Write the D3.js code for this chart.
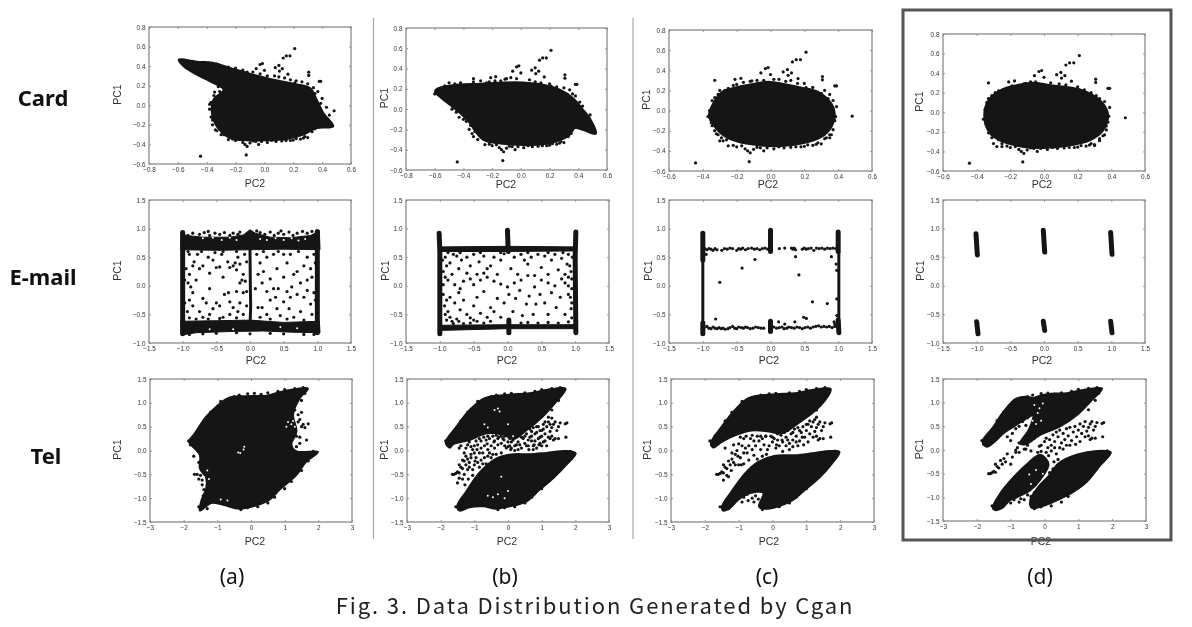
<!doctype html>
<html>
<head>
<meta charset="utf-8">
<script src="https://d3js.org/d3.v7.min.js"></script>
<style>
    html, body { margin: 0; padding: 0; background: #fff; }
    svg { display: block; }
    .plots { filter: blur(0.5px); }
</style>
</head>
<body>
<div id="chart"></div>
<script>
// axis ticks
const cardXWide = [-0.8, -0.6, -0.4, -0.2, 0, 0.2, 0.4, 0.6];
const cardXNarrow = [-0.6, -0.4, -0.2, 0, 0.2, 0.4, 0.6];
const cardY = [-0.6, -0.4, -0.2, 0, 0.2, 0.4, 0.6, 0.8];
const emailX = [-1.5, -1, -0.5, 0, 0.5, 1, 1.5];
const emailY = [-1, -0.5, 0, 0.5, 1, 1.5];
const telX = [-3, -2, -1, 0, 1, 2, 3];
const telY = [-1.5, -1, -0.5, 0, 0.5, 1, 1.5];

const rowNames = ["Card", "E-mail", "Tel"];
const colNames = ["(a)", "(b)", "(c)", "(d)"];

// Card: outlines of the solid clouds
const cardAOutline = [[-.594,.467],[-.468,.446],[-.353,.433],[-.214,.371],[-.076,.313],[.062,.262],[.2,.221],[.316,.177],[.362,.058],[.408,-.078],[.477,-.215],[.362,-.232],[.27,-.3],[.154,-.344],[.016,-.358],[-.122,-.358],[-.237,-.334],[-.33,-.215],[-.364,-.078],[-.353,.058],[-.283,.16],[-.376,.245],[-.468,.313],[-.56,.398]];
const cardBOutline = [[-.598,.174],[-.575,.207],[-.447,.24],[-.285,.25],[-.123,.263],[.016,.263],[.155,.24],[.271,.191],[.364,.108],[.433,-.007],[.48,-.089],[.522,-.243],[.433,-.204],[.376,-.187],[.341,-.253],[.248,-.319],[.109,-.352],[-.03,-.352],[-.169,-.335],[-.262,-.302],[-.308,-.237],[-.355,-.138],[-.424,-.039],[-.494,.043],[-.552,.108]];
const cardCOutline = [[-.364,-.056],[-.339,.07],[-.285,.185],[-.211,.228],[-.112,.262],[-.014,.285],[.085,.262],[.183,.228],[.281,.185],[.36,.07],[.38,-.03],[.36,-.162],[.301,-.262],[.183,-.328],[.045,-.354],[-.073,-.344],[-.191,-.311],[-.28,-.245],[-.329,-.162]];
const cardDOutline = [[-.355,-.031],[-.33,.123],[-.26,.225],[-.162,.276],[-.063,.303],[.036,.276],[.134,.259],[.253,.208],[.351,.089],[.381,-.031],[.351,-.184],[.272,-.286],[.134,-.344],[-.004,-.364],[-.122,-.354],[-.241,-.303],[-.32,-.218]];

// the same outliers show up in all four Card plots
const cardOutliers = [[.21,.58],[.177,.505],[.152,.505],[.13,.483],[-.443,-.52],[-.126,-.507],[.307,.338],[.307,.305],[.38,.245],[.39,.245],[.483,-.056],[-.33,.3],[-.21,.31],[-.175,.32],[-.11,.295],[-.057,.374],[-.03,.417],[-.014,.427],[0,.357],[.075,.384],[.1,.407],[.104,.35],[.124,.374],[.163,.318],[.21,.228]];
const cardBottomFringe = [[.33,-.27],[.28,-.32],[.22,-.34],[.15,-.36],[.08,-.37],[.02,-.38],[-.04,-.4],[-.1,-.385],[-.15,-.38],[-.12,-.42],[-.135,-.4],[-.2,-.36],[-.25,-.35],[.35,-.24],[.3,-.33],[.25,-.345],[.18,-.36],[-.06,-.37],[-.17,-.35],[.12,-.365],[.05,-.36],[-.02,-.37],[-.08,-.365],[-.22,-.345],[.27,-.335],[.2,-.355]];
const cardAFringe = [[-.33,.42],[-.25,.39],[-.15,.36],[-.08,.34],[.02,.3],[.07,.3],[.14,.28],[.22,.25],[.26,.24],[.3,.22],[.34,.18],[.37,.14],[.4,.07],[.43,-.02],[.45,-.1],[-.3,-.3],[-.33,-.26],[-.36,-.2],[-.37,-.12],[-.38,-.04],[-.37,.03],[-.35,.1],[-.345,.135],[-.34,-.25],[-.31,.14],[-.5,.45],[-.42,.44],[-.2,.38],[-.12,.34],[-.03,.32],[.1,.29],[.18,.26],[.35,.12],[.39,.02],[-.36,-.15],[-.28,-.3],[-.38,.01],[-.35,-.05],[-.32,.19]];
const cardBFringe = [[-.6,.15],[-.5,.26],[-.46,.25],[-.38,.24],[-.33,.27],[-.28,.28],[-.24,.26],[-.18,.28],[-.1,.3],[-.07,.31],[-.03,.3],[.06,.29],[.1,.27],[.2,.25],[.25,.22],[.3,.21],[.34,.19],[.38,.13],[.41,.07],[-.48,.0],[-.43,-.08],[-.38,-.12],[-.36,-.2],[-.33,-.27],[-.3,-.3],[-.35,-.16],[-.53,.23],[-.42,.26],[-.22,.27],[-.14,.28],[.14,.26],[.36,.15],[.43,.03],[-.5,.06],[-.45,-.03],[-.4,-.1],[-.32,-.22],[-.34,-.24]];
const cardCFringe = [[-.33,.13],[-.32,.04],[-.36,.0],[-.37,-.06],[-.35,-.12],[-.33,-.2],[-.31,-.24],[-.3,-.3],[-.28,-.3],[-.3,.2],[-.25,.22],[-.2,.26],[-.16,.28],[-.08,.3],[-.04,.3],[.05,.31],[.12,.3],[.2,.27],[.25,.23],[.32,.2],[.35,.16],[.37,.1],[.39,.04],[.38,-.1],[.37,-.19],[.36,-.24],[.32,-.28],[.35,-.27],[-.345,.1],[-.31,.16],[-.27,.2],[-.22,.25],[-.12,.29],[.02,.31],[.09,.29],[.16,.27],[.3,.17],[.34,.12],[.385,-.06],[-.345,-.15],[-.32,-.23],[-.26,-.29],[-.29,-.27]];
const cardDFringe = [[-.36,-.07],[-.34,.1],[-.34,.05],[-.33,.14],[-.32,-.17],[-.33,-.21],[-.3,-.32],[-.28,-.35],[-.27,-.28],[-.29,.2],[-.24,.23],[-.19,.27],[-.12,.29],[-.05,.31],[.04,.3],[.13,.28],[.2,.26],[.28,.2],[.33,.14],[.36,.11],[.39,.05],[.38,-.1],[.37,-.18],[.36,-.23],[.33,-.29],[.3,-.34],[-.35,.03],[-.31,.17],[-.27,.22],[-.08,.31],[.09,.29],[.24,.23],[.31,.17],[.385,-.04],[-.345,-.12],[-.31,-.26],[-.25,-.32],[.37,-.14]];

// E-mail: dense bands
const emailATopBand = [[-1.02,.95],[-.95,.88],[-.7,.85],[-.3,.85],[-.1,.89],[0,.98],[.08,.92],[.3,.85],[.6,.84],[.9,.88],[1.03,.96],[1.04,.63],[.5,.64],[0,.63],[-.5,.62],[-1.03,.63]];
const emailABottomBand = [[-1.03,-.62],[-.5,-.61],[0,-.6],[.5,-.64],[1.03,-.62],[1.04,-.82],[.6,-.81],[.2,-.79],[-.3,-.8],[-.8,-.82],[-1.02,-.86]];
const emailAStems = [[[-1,-.84],[-1,.93]],[[1,-.82],[1,.95]]];
const emailAThin = [[[0,-.72],[.01,-.35],[.005,.0],[0,.63]]];
const emailAPoints = [[-.9,.55],[-.85,.35],[-.83,.42],[-.78,.55],[-.75,.3],[-.7,.35],[-.62,.5],[-.6,.22],[-.55,.45],[-.52,.58],[-.5,.32],[-.45,.33],[-.42,.55],[-.4,.15],[-.33,.42],[-.3,.32],[-.25,.35],[-.22,.4],[-.2,.28],[-.18,.5],[-.15,.38],[-.1,.2],[-.08,.55],[-.12,.1],[-.15,.05],[-.07,.08],[-.05,.42],[-.9,.2],[-.92,.05],[-.88,-.02],[-.8,.1],[-.95,.3],
    [-.9,-.25],[-.85,-.35],[-.75,-.45],[-.7,-.22],[-.65,-.3],[-.6,-.5],[-.55,-.4],[-.5,-.3],[-.45,-.35],[-.4,-.55],[-.38,-.15],[-.32,-.12],[-.3,-.28],[-.25,-.38],[-.2,-.1],[-.18,-.45],[-.15,-.3],[-.1,-.12],[-.1,-.5],[-.05,-.35],[-.05,-.1],[-.3,-.5],[-.6,-.05],[-.85,-.12],[-.93,-.45],[-.7,-.55],
    [.1,.55],[.15,.4],[.2,.25],[.25,.5],[.3,.12],[.35,.55],[.4,.3],[.5,.15],[.55,.4],[.6,.55],[.65,.2],[.7,.25],[.75,.05],[.8,.35],[.85,.5],[.9,.3],[.92,.15],[.95,.55],[.85,.1],[.5,.55],[.18,.05],[.12,.2],
    [.08,-.05],[.12,-.38],[.18,-.38],[.25,-.5],[.3,-.25],[.35,-.05],[.38,-.2],[.4,-.4],[.42,-.05],[.45,-.52],[.5,-.28],[.55,-.1],[.58,-.4],[.62,-.02],[.65,-.55],[.7,-.15],[.75,-.45],[.8,-.2],[.85,-.08],[.9,-.32],[.92,-.5],[.95,-.12],[.6,-.2],[.25,-.1],[.15,-.55],
    [-.9,-.56],[-.8,-.58],[-.62,-.58],[-.45,-.57],[-.2,-.56],[.3,-.58],[.55,-.58],[.8,-.6],[-.92,.6],[-.72,.6],[-.4,.6],[-.2,.6],[.2,.6],[.42,.6],[.72,.6],[-.97,-.3],[-.97,.1],[.97,.4],[.97,-.25]];
const emailAFringe = [[-.85,.92],[-.75,.9],[-.68,.93],[-.6,.88],[-.52,.92],[-.45,.9],[-.38,.93],[-.3,.88],[-.25,.92],[-.18,.9],[.15,.93],[.22,.9],[.3,.94],[.36,.88],[.42,.92],[.5,.9],[.58,.94],[.64,.88],[.7,.92],[.78,.95],[.85,.92],[-.9,-.85],[-.7,-.84],[-.5,-.83],[-.2,-.82],[0,-.84],[.3,-.83],[.5,-.84],[.8,-.85],[.95,-.85],[-.92,.88],[-.62,.95],[-.15,.94],[.1,.96],[.46,.96],[.92,.95]];
// white flecks left in the upper band of (a)
const emailAHoles = [[-.7,.83],[-.55,.84],[-.42,.8],[-.3,.84],[-.2,.8],[.15,.82],[.25,.8],[.38,.83],[.5,.8],[.62,.83],[.72,.79],[.82,.82],[.45,-.72],[.7,-.74],[-.6,-.76],[-.25,-.76]];

const emailBTopBand = [[-1,.68],[0,.69],[1,.68],[1,.61],[0,.6],[-1,.6]];
const emailBBottomBand = [[-1,-.69],[0,-.68],[1,-.68],[1,-.75],[0,-.75],[-1,-.78]];
const emailBStems = [[[-1.01,.92],[-1,.6],[-1,-.84]],[[0,.97],[.01,.6]],[[1.01,.94],[1,.5],[1.01,-.82]],[[.02,-.6],[.02,-.82]]];
const emailBPoints = [[-.92,.5],[-.88,.58],[-.85,.4],[-.8,.55],[-.75,.52],[-.72,.3],[-.68,.45],[-.6,.5],[-.55,.35],[-.5,.55],[-.45,.2],[-.42,.42],[-.35,.52],[-.3,.3],[-.25,.35],[-.2,.5],[-.15,.2],[-.1,.45],[-.05,.56],[.05,.3],[.1,.5],[.15,.2],[.2,.55],[.25,.45],[.3,.38],[.35,.5],[.4,.18],[.45,.55],[.5,.32],[.55,.52],[.6,.2],[.65,.45],[.7,.55],[.75,.28],[.8,.48],[.85,.2],[.9,.55],[.92,.35],[.95,.12],
    [-.95,.25],[-.92,.15],[-.88,.1],[-.82,.2],[-.78,.02],[-.7,-.05],[-.65,.08],[-.6,.22],[-.55,.12],[-.5,.02],[-.4,.1],[-.35,.22],[-.3,.15],[-.2,.08],[-.1,.03],[0,-.02],[.1,.05],[.2,.1],[.3,.18],[.4,-.02],[.5,.1],[.6,.05],[.7,.0],[.8,.12],[.85,.05],[.9,.0],[.95,-.05],
    [-.95,-.15],[-.9,-.25],[-.85,-.2],[-.78,-.3],[-.72,-.12],[-.7,-.42],[-.65,-.25],[-.6,-.5],[-.55,-.56],[-.5,-.35],[-.45,-.2],[-.4,-.48],[-.35,-.1],[-.3,-.55],[-.25,-.38],[-.2,-.45],[-.15,-.22],[-.1,-.55],[-.05,-.3],[.02,-.15],[.08,-.45],[.12,-.22],[.18,-.08],[.22,-.52],[.28,-.32],[.32,-.18],[.38,-.5],[.42,-.32],[.48,-.15],[.55,-.3],[.6,-.5],[.65,-.12],[.72,-.38],[.78,-.2],[.85,-.5],[.9,-.15],[.94,-.4],[.95,-.56],
    [-.9,-.6],[-.82,-.62],[-.72,-.62],[-.65,-.66],[-.55,-.65],[-.45,-.62],[-.35,-.65],[-.25,-.62],[.2,-.65],[.3,-.64],[.45,-.65],[.6,-.64],[.75,-.65],[.9,-.63],[-.62,-.72],[-.8,-.66],[-.96,.45],[-.95,.02],[-.93,-.35],[-.92,-.5],[-.88,-.45],[-.9,.35],[-.85,-.55],[-.75,-.58],[-.5,-.6],[.94,.25],[.95,-.3],[.93,-.2],[.9,.15],[.88,.38],[.96,.5],[-.7,.58],[-.4,.58],[-.1,.58],[.3,.58],[.6,.58],[.82,.58]];

// dotted top and bottom rows of (c)
const emailCTopDots = [[-.97,.65],[-.94,.63],[-.91,.65],[-.88,.64],[-.85,.62],[-.82,.65],[-.79,.63],[-.72,.62],[-.68,.65],[-.64,.64],[-.6,.66],[-.56,.65],[-.5,.62],[-.47,.65],[-.44,.64],[-.41,.66],[-.37,.63],[-.33,.65],[-.28,.66],[-.24,.64],[-.2,.65],[-.16,.63],[-.12,.65],[-.08,.66],[-.04,.64],[.13,.65],[.21,.66],[.31,.66],[.33,.64],[.35,.66],[.37,.63],[.47,.64],[.5,.66],[.53,.64],[.56,.65],[.6,.66],[.64,.62],[.68,.66],[.72,.65],[.76,.66],[.8,.64],[.84,.66],[.88,.65],[.92,.66],[.96,.65]];
const emailCBottomDots = [[-.98,-.73],[-.94,-.71],[-.91,-.74],[-.88,-.75],[-.85,-.72],[-.82,-.74],[-.79,-.75],[-.76,-.73],[-.73,-.75],[-.7,-.74],[-.67,-.76],[-.63,-.75],[-.6,-.73],[-.56,-.71],[-.53,-.74],[-.5,-.75],[-.47,-.72],[-.43,-.73],[-.4,-.74],[-.37,-.72],[-.34,-.73],[-.3,-.75],[-.26,-.74],[-.22,-.72],[-.18,-.73],[-.14,-.74],[-.1,-.74],[.05,-.72],[.09,-.74],[.13,-.73],[.17,-.72],[.2,-.75],[.24,-.74],[.27,-.72],[.31,-.73],[.35,-.74],[.39,-.72],[.43,-.73],[.47,-.75],[.51,-.73],[.55,-.72],[.59,-.74],[.63,-.72],[.67,-.71],[.71,-.7],[.75,-.72],[.79,-.71],[.83,-.72],[.87,-.71],[.91,-.73],[.95,-.71]];
const emailCStems = [[[-1,.92],[-1,.45]],[[0,.97],[0,.6]],[[1,.94],[1,.6]],[[0,-.62],[0,-.8]],[[-1,-.65],[-1,-.84]],[[1,-.6],[1.01,-.82]]];
const emailCThin = [[[-1,.45],[-1,-.7]],[[1.01,.6],[1.01,-.7]]];
const emailCPoints = [[-.81,-.58],[-.75,.06],[-.42,.31],[-.23,.46],[.37,.51],[.42,.19],[.62,-.28],[.84,-.31],[.9,.51],[.97,.38],[.98,.27],[.98,-.23],[.98,-.52],[.49,-.55],[.53,-.57],[.12,-.63],[.21,-.67],[.36,-.63],[.94,-.63],[.95,-.67],[-.95,.55]];

const emailDStems = [[[-1.01,.91],[-.99,.54]],[[-.01,.97],[.01,.59]],[[.99,.93],[1.01,.55]],[[-1,-.63],[-.98,-.84]],[[-.01,-.62],[.01,-.78]],[[.99,-.62],[1.01,-.82]]];

// Tel: solid lobes
const telAOutline = [[-1.84,.19],[-1.67,.36],[-1.33,.71],[-1.03,.92],[-.68,1.1],[-.14,1.14],[.46,1.15],[.95,1.24],[1.69,1.3],[1.45,1.1],[1.25,.75],[1.35,.4],[1.2,.12],[1.35,-.02],[1.99,-.03],[1.64,-.23],[1.35,-.51],[.85,-.82],[.55,-1.03],[.06,-1.17],[-.34,-1.22],[-.83,-1.14],[-1.18,-1.1],[-1.52,-1.26],[-1.48,-1.07],[-1.33,-.79],[-1.33,-.58],[-1.52,-.37],[-1.52,-.09],[-1.82,.15]];
const telBTop = [[-1.85,.17],[-1.53,.5],[-1.14,.85],[-.69,1.1],[.05,1.17],[.64,1.2],[1.14,1.27],[1.71,1.3],[1.44,1.03],[1.04,.72],[.54,.42],[.15,.24],[-.15,.34],[-.64,.36],[-1.14,.22],[-1.63,.13],[-1.73,.06]];
const telBBottom = [[-1.51,-1.17],[-1.24,-.86],[-.84,-.46],[-.35,-.17],[.15,-.08],[.64,-.08],[1.14,-.05],[1.73,-.01],[2.01,-.06],[1.73,-.3],[1.34,-.58],[.94,-.82],[.54,-1.07],[.05,-1.17],[-.35,-1.22],[-.74,-1.17],[-1.14,-1.19],[-1.44,-1.26]];
const telCTop = [[-1.82,.15],[-1.5,.5],[-1.11,.85],[-.71,1.1],[.08,1.18],[.67,1.2],[1.17,1.27],[1.72,1.29],[1.56,1.06],[1.17,.78],[.77,.58],[.28,.36],[-.12,.4],[-.61,.42],[-1.11,.32],[-1.5,.18],[-1.75,.06]];
const telCBottom = [[-1.49,-1.17],[-1.21,-.86],[-.81,-.48],[-.42,-.24],[.08,-.11],[.67,-.1],[1.17,-.06],[1.71,-.01],[1.98,-.03],[1.76,-.27],[1.37,-.58],[.97,-.82],[.62,-1.03],[.18,-1.17],[-.27,-1.22],[-.4,-1.17],[-.27,-.89],[-.66,-.89],[-1.01,-1.03],[-1.26,-1.21],[-1.46,-1.26]];
const telDStrip = [[-1.83,.18],[-1.51,.49],[-1.21,.81],[-.82,1.09],[-.33,1.09],[-.13,.88],[-.6,.64],[-.9,.5],[-1.2,.36],[-1.5,.16],[-1.71,.07]];
const telDMain = [[-.38,1.06],[.07,1.18],[.66,1.2],[1.15,1.27],[1.7,1.3],[1.35,1.02],[.96,.74],[.46,.5],[-.13,.32],[-.57,.12],[-.72,.14],[-.47,.42],[-.33,.7]];
const telDLowLeft = [[-1.53,-1.22],[-1.31,-.92],[-.92,-.58],[-.52,-.3],[-.13,-.1],[.12,-.3],[-.12,-.62],[-.42,-.85],[-.82,-1.0],[-1.02,-1.06],[-1.26,-1.23],[-1.46,-1.27]];
const telDLowRight = [[-.42,-1.06],[-.18,-.78],[.12,-.55],[.42,-.28],[.95,-.1],[1.55,-.02],[1.96,-.05],[1.65,-.32],[1.25,-.67],[.86,-.88],[.37,-1.06],[-.03,-1.18],[-.38,-1.22]];

// the scatter between the lobes, plus what each plot has on top of it
const telMid = [[-1.65,-.5],[-1.6,-.5],[-1.55,-.48],[-1.5,-.45],[-1.45,-.47],[-1.4,-.35],[-1.35,-.38],[-1.3,-.22],[-1.45,-.3],[-1.25,-.3],[-1.2,-.18],[-1.15,-.25],[-1.1,-.08],[-1,-.3],[-.95,-.15],[-.85,-.05],[-.8,.05],[-.75,-.05],[-.6,.02],[-.5,.1],[-.4,.2],[-.3,.25],[-.2,.3],[-.1,.1],[0,.18],[.05,.25],[.1,.05],[.15,.22],[.2,.1],[.25,.32],[.3,.18],[.35,.38],[.4,.28],[.45,.42],[.5,.15],[.55,.35],[.6,.22],[.65,.45],[.7,.3],[.75,.48],[.8,.2],[.85,.38],[.9,.5],[.95,.28],[1,.42],[1.05,.55],[1.1,.35],[1.15,.5],[1.2,.6],[1.25,.4],[1.3,.48],[1.35,.55],[1.4,.6],[1.45,.42],[1.5,.5],[1.55,.58],[1.4,.25],[1.7,.56],[1.75,.58],[1.5,.25],[1.72,.28],[1.35,.22],[1.3,.3],[1.2,.28],[1.05,.18],[.92,.12],[.75,.1]];
const telBExtra = [[-1.45,.05],[-1.4,.1],[-1.3,-.05],[-1.25,.05],[-1.2,.12],[-1.15,.18],[-1.05,.02],[-1,.1],[-.95,.2],[-.9,.12],[-.85,.25],[-.8,.2],[-.7,.1],[-.65,.22],[-.6,.3],[-.55,.25],[-.45,.3],[-.4,.05],[-.35,.32],[-.3,.12],[-.25,.35],[-.2,.15],[-.15,.25],[-.1,.3],[-.05,.05],[.05,.1],[.1,.18],[.2,.0],[.3,.02],[.35,.12],[.45,.25],[.5,.3],[.6,.1],[.65,.28],[.7,.4],[.8,.35],[.85,.5],[.95,.42],[1,.3],[1.05,.45],[1.1,.6],[1.2,.7],[1.25,.55],[1.3,.68],[.75,.02],[.85,.05],[1,.1],[-1.1,-.15],[-1,-.05],[-.9,-.25],[-.85,-.35],[-.8,-.2],[-.7,-.15],[-.65,-.28],[-.55,-.05],[-.5,-.15],[-.45,-.08],[-1.05,-.4],[-1.2,-.4],[-1.3,-.5],[-1.35,-.6],[-1.5,-.68],[-1.45,-.58],
    [-1.1,.08],[-.92,.02],[-.72,.28],[-.62,.14],[-.42,.18],[-.28,.28],[-.12,.22],[0,.08],[.08,.02],[.25,.12],[.4,.05],[.55,.1],[.62,.02],[.7,.2],[.78,.12],[.9,.25],[1.1,.2],[1.15,.1],[-1.35,-.2],[-1.25,-.12],[-1.15,-.35],[-.98,-.22],[-1.05,-.52],[-1.18,-.6],[-1.28,-.72],[-.75,-.28],[-.6,-.12],[-.35,-.08],[-.2,-.05],[.95,.15],[1.25,.25]];
const telCExtra = [[-1.4,.05],[-1.15,.12],[-1.05,.0],[-1,.14],[-.9,.1],[-.85,.25],[-.7,.1],[-.65,.25],[-.55,.2],[-.45,.3],[-.35,.02],[-.25,.12],[-.15,.02],[-.05,.3],[.15,.35],[.45,.22],[.6,.38],[.8,.42],[1,.55],[1.1,.62],[1.25,.65],[1.3,.7],[-1.2,-.05],[-1.1,-.3],[-.85,-.28],[-.7,-.2],[-.55,-.1],[-1.3,-.55],[-1.45,-.62],[-1,-.95],[-.85,-.98],[-.75,-.92],[-.6,-1.0],[-.5,-.95],[-.55,-1.08],[-.72,-1.05],[-.9,-1.08],[-.42,-1.02],
    [-.95,.28],[-.78,.3],[-.6,.32],[-.35,.3],[-.2,.3],[0,.28],[.12,.12],[.28,.22],[.4,.1],[.6,.08],[.7,.18],[.88,.28],[-.3,-.12],[-.18,-.08],[-.45,-.18],[-1.02,-.12],[-.92,-.3],[-1.22,-.42],[-1.35,-.52],[.5,.02],[.3,-.02]];
const telDExtra = [[-1.1,.28],[-1,.2],[-.95,.35],[-.85,.45],[-.75,.5],[-.65,.6],[-.55,.52],[-.6,.65],[-.5,.68],[-.75,.15],[-.85,.0],[-.55,.02],[-.4,-.02],[-.2,-.05],[-.15,.08],[-.1,-.03],[.05,-.05],[.12,-.12],[.2,-.02],[.3,.05],[.35,-.08],[.45,.05],[.55,.02],[.65,.1],[.28,-.25],[.4,-.2],[.25,-.4],[.15,-.48],[.1,-.62],[-.02,-.7],[-.1,-.75],[-.2,-.82],[-.3,-.9],[-.5,-.95],[-.6,-1.05],[-.7,-1.03],[-.75,-1.1],[-.4,-.98],[-.9,-1.05],[-1,-1.12],[-.65,.78],[-.8,.68],[-.95,.58]];
const telFringe = [[-.5,1.13],[-.35,1.16],[-.1,1.19],[.1,1.2],[.3,1.18],[.5,1.21],[.8,1.24],[1,1.28],[1.3,1.3],[1.55,1.32],[1.6,1.2],[1.5,1.05],[1.3,.85],[1.85,-.02],[1.8,-.12],[1.7,-.22],[1.5,-.42],[1.2,-.65],[1,-.8],[.7,-.98],[.5,-1.1],[.2,-1.18],[-.1,-1.2],[-.3,-1.24],[-1.45,-1.22],[-1.3,-1.22],[-1.55,-1.18],[-1.85,.2],[-1.8,.12],[-1.7,.3],[-1.4,.62],[-1.2,.8],[-.9,1.03]];
// specks of white inside the Tel clouds, and the ragged right side of (a)
const telAHoles = [[-.32,-.05],[-.22,.02],[-.2,.08],[-.38,-.04],[1.1,.6],[1.2,.55],[1.3,.5],[1.25,.62],[1.05,.5],[-1.4,-.55],[-1.3,-.42],[-1.25,-.6],[-.7,-1.05],[-.9,-1.03]];
const telBHoles = [[-.4,.85],[-.3,.88],[-.25,.82],[-.7,.55],[-.6,.48],[.0,.55],[.15,.3],[-.2,-.55],[-.3,-.92],[-.45,-.98],[-.6,-.95],[.0,-.85],[-.1,-1.0]];
const telDHoles = [[-.3,.95],[-.2,.78],[-.35,.62],[-.25,.55],[-.1,.62],[-.15,.88],[-.05,.98],[-.45,-.52],[-.25,-.42],[-.05,-.5],[-.4,-.72]];
const telAScatter = [[1.4,.6],[1.5,.5],[1.55,.55],[1.45,.65],[1.7,.56],[1.6,.48],[1.65,.22],[1.45,.15],[1.35,.3],[1.4,.75],[1.5,.8],[1.35,.08],[1.45,.28],[-1.7,-.12],[-1.55,-.25],[-1.6,-.5],[-1.68,-.5],[-1.55,-.6],[-1.45,-.72],[-1.4,-.82],[-1.55,-.02],[-1.45,-.62],[-1.5,-.52],[-1.42,-.95]];

// where each plot sits on the page
const plotBoxes = [
    [[149, 27, 202, 137], [406, 28, 201, 142], [669, 30, 203, 141], [943, 34, 202, 137]],
    [[149, 200, 202, 143], [406, 200, 203, 143], [669, 200, 203, 143], [943, 200, 202, 143]],
    [[150, 379, 202, 143], [407, 379, 202, 143], [671, 379, 203, 143], [943, 379, 203, 142]]
];
const xLabelAt = [[[255, 187], [506, 188], [768, 188], [1042, 188]], [[256, 364], [507, 364], [769, 364], [1042, 364]], [[255, 545], [507, 545], [769, 545], [1041, 545]]];
const yLabelAt = [[117, 384, 646, 919], [117, 385, 648, 920], [117, 384, 647, 919]];

const panels = [
    [
        { xDomain: [-0.8, 0.6], yDomain: [-0.6, 0.8], xTicks: cardXWide, yTicks: cardY, solids: [cardAOutline], dots: [cardOutliers, cardBottomFringe, cardAFringe] },
        { xDomain: [-0.8, 0.6], yDomain: [-0.6, 0.8], xTicks: cardXWide, yTicks: cardY, solids: [cardBOutline], dots: [cardOutliers, cardBottomFringe, cardBFringe] },
        { xDomain: [-0.6, 0.6], yDomain: [-0.6, 0.8], xTicks: cardXNarrow, yTicks: cardY, solids: [cardCOutline], dots: [cardOutliers, cardBottomFringe, cardCFringe] },
        { xDomain: [-0.6, 0.6], yDomain: [-0.6, 0.8], xTicks: cardXNarrow, yTicks: cardY, solids: [cardDOutline], dots: [cardOutliers, cardBottomFringe, cardDFringe] }
    ],
    [
        { xDomain: [-1.5, 1.5], yDomain: [-1, 1.5], xTicks: emailX, yTicks: emailY, bands: [emailATopBand, emailABottomBand], stems: emailAStems, thin: emailAThin, dots: [emailAPoints, emailAFringe], holes: emailAHoles },
        { xDomain: [-1.5, 1.5], yDomain: [-1, 1.5], xTicks: emailX, yTicks: emailY, bands: [emailBTopBand, emailBBottomBand], stems: emailBStems, dots: [emailBPoints] },
        { xDomain: [-1.5, 1.5], yDomain: [-1, 1.5], xTicks: emailX, yTicks: emailY, stems: emailCStems, thin: emailCThin, dots: [emailCPoints, emailCTopDots, emailCBottomDots] },
        { xDomain: [-1.5, 1.5], yDomain: [-1, 1.5], xTicks: emailX, yTicks: emailY, stems: emailDStems, dots: [] }
    ],
    [
        { xDomain: [-3, 3], yDomain: [-1.5, 1.5], xTicks: telX, yTicks: telY, solids: [telAOutline], dots: [telFringe, telAScatter], holes: telAHoles },
        { xDomain: [-3, 3], yDomain: [-1.5, 1.5], xTicks: telX, yTicks: telY, solids: [telBTop, telBBottom], dots: [telMid, telBExtra, telFringe], holes: telBHoles },
        { xDomain: [-3, 3], yDomain: [-1.5, 1.5], xTicks: telX, yTicks: telY, solids: [telCTop, telCBottom], dots: [telMid, telCExtra, telFringe] },
        { xDomain: [-3, 3], yDomain: [-1.5, 1.5], xTicks: telX, yTicks: telY, solids: [telDStrip, telDMain, telDLowLeft, telDLowRight], dots: [telMid, telDExtra, telFringe], holes: telDHoles }
    ]
];

const svg = d3.select("#chart").append("svg").attr("width", 1192).attr("height", 627);
const plots = svg.append("g").attr("class", "plots");
const ink = "#151515";

function drawPlot(p, box, xAt, yAt, intTicks) {
    const g = plots.append("g").attr("transform", `translate(${box[0]},${box[1]})`);
    const x = d3.scaleLinear().domain(p.xDomain).range([0, box[2]]);
    const y = d3.scaleLinear().domain(p.yDomain).range([box[3], 0]);
    const path = d3.line().x(d => x(d[0])).y(d => y(d[1]));
    const cloud = d3.line().x(d => x(d[0])).y(d => y(d[1])).curve(d3.curveCatmullRomClosed.alpha(0.5));

    (p.solids || []).forEach(s => {
        g.append("path").attr("d", cloud(s))
            .attr("fill", ink).attr("stroke", ink).attr("stroke-width", 2).attr("stroke-linejoin", "round");
    });
    (p.bands || []).forEach(s => {
        g.append("path").attr("d", path(s) + "Z")
            .attr("fill", ink).attr("stroke", ink).attr("stroke-width", 1).attr("stroke-linejoin", "round");
    });
    (p.stems || []).forEach(s => {
        g.append("path").attr("d", path(s)).attr("fill", "none")
            .attr("stroke", ink).attr("stroke-width", 5).attr("stroke-linecap", "round");
    });
    (p.thin || []).forEach(s => {
        g.append("path").attr("d", path(s)).attr("fill", "none")
            .attr("stroke", ink).attr("stroke-width", 3).attr("stroke-linecap", "round");
    });
    p.dots.forEach(list => {
        g.selectAll(null).data(list).enter().append("circle")
            .attr("cx", d => x(d[0])).attr("cy", d => y(d[1])).attr("r", 1.6).attr("fill", ink);
    });
    g.selectAll(null).data(p.holes || []).enter().append("circle")
        .attr("cx", d => x(d[0])).attr("cy", d => y(d[1])).attr("r", 1).attr("fill", "#fff");

    const fmtX = d3.format(intTicks ? ".0f" : ".1f");
    const fmtY = d3.format(".1f");
    const ax = [
        [d3.axisBottom(x).tickValues(p.xTicks).tickFormat(fmtX), `translate(0,${box[3]})`],
        [d3.axisLeft(y).tickValues(p.yTicks).tickFormat(fmtY), "translate(0,0)"],
        [d3.axisTop(x).tickValues(p.xTicks).tickFormat(""), "translate(0,0)"],
        [d3.axisRight(y).tickValues(p.yTicks).tickFormat(""), `translate(${box[2]},0)`]
    ];
    ax.forEach(a => {
        const sel = g.append("g").attr("transform", a[1])
            .call(a[0].tickSizeInner(-2).tickSizeOuter(0).tickPadding(3.5));
        sel.select(".domain").remove();
        sel.selectAll("line").attr("stroke", "#555").attr("stroke-width", 0.6);
        sel.selectAll("text").attr("fill", "#333")
            .attr("font-family", "'Liberation Sans', sans-serif").attr("font-size", 6.4);
    });
    g.append("rect").attr("width", box[2]).attr("height", box[3])
        .attr("fill", "none").attr("stroke", "#8b8b8b").attr("stroke-width", 1.3);

    plots.append("text").attr("x", xAt[0]).attr("y", xAt[1]).attr("text-anchor", "middle")
        .attr("font-family", "'Liberation Sans', sans-serif").attr("font-size", 10.5).attr("fill", "#333").text("PC2");
    plots.append("text").attr("transform", `translate(${yAt + 4},${box[1] + box[3] / 2 - 1}) rotate(-90)`)
        .attr("text-anchor", "middle")
        .attr("font-family", "'Liberation Sans', sans-serif").attr("font-size", 10.5).attr("fill", "#333").text("PC1");
}

panels.forEach((row, r) => row.forEach((p, c) => {
    drawPlot(p, plotBoxes[r][c], xLabelAt[r][c], yLabelAt[r][c], r === 2);
}));

// separators and the box round column (d)
[373.5, 633].forEach(px => {
    svg.append("line").attr("x1", px).attr("x2", px).attr("y1", 18).attr("y2", 539)
        .attr("stroke", "#a8a8a8").attr("stroke-width", 1.2);
});
svg.append("rect").attr("x", 903).attr("y", 10).attr("width", 268).attr("height", 530)
    .attr("fill", "none").attr("stroke", "#555").attr("stroke-width", 3);

[99, 278, 457].forEach((py, i) => {
    svg.append("text").attr("x", i === 2 ? 46 : 43).attr("y", py + 7).attr("text-anchor", "middle")
        .attr("font-family", "'Noto Sans', sans-serif").attr("font-weight", 700).attr("font-size", 22)
        .attr("fill", "#111").text(rowNames[i]);
});
[232, 505, 767, 1040].forEach((px, i) => {
    svg.append("text").attr("x", px).attr("y", 584).attr("text-anchor", "middle")
        .attr("font-family", "'Noto Sans', sans-serif").attr("font-size", 21)
        .attr("fill", "#111").text(colNames[i]);
});
svg.append("text").attr("x", 595).attr("y", 614).attr("text-anchor", "middle")
    .attr("font-family", "'Noto Sans CJK KR', 'Noto Sans', sans-serif").attr("font-size", 22)
    .attr("letter-spacing", 1.9).attr("fill", "#222").text("Fig. 3. Data Distribution Generated by Cgan");
</script>
</body>
</html>
